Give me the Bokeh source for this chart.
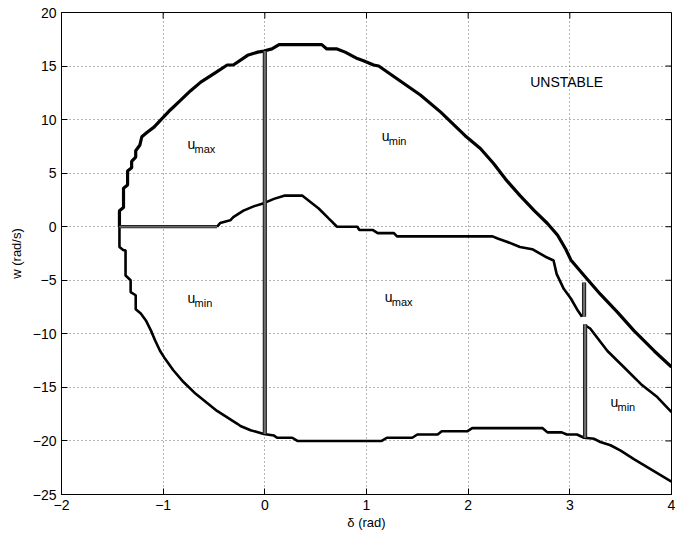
from bokeh.plotting import figure
from bokeh.models import FixedTicker, Range1d
from bokeh.core.properties import value
from bokeh.embed import file_html
from bokeh.resources import INLINE
import math

# ---- data ----
x_ticks = [-2, -1, 0, 1, 2, 3, 4]
y_ticks = [-25, -20, -15, -10, -5, 0, 5, 10, 15, 20]

# upper outer boundary (thick black)
a_x = [-1.43, -1.43, -1.39, -1.39, -1.35, -1.35, -1.31, -1.31, -1.27, -1.27, -1.23, -1.21,
       -1.16, -1.09, -1.03, -0.93, -0.83, -0.73, -0.63, -0.50, -0.37, -0.31, -0.17, -0.07,
       -0.01, 0.07, 0.14, 0.56, 0.61, 0.71, 0.79, 0.91, 0.97, 1.07, 1.12, 1.53, 1.73, 1.86,
       1.97, 2.12, 2.25, 2.38, 2.51, 2.65, 2.78, 2.88, 2.96, 3.01, 3.14, 3.30, 3.47, 3.63,
       3.83, 4.0]
a_y = [0.0, 1.5, 1.8, 3.6, 3.9, 5.2, 5.5, 6.1, 6.5, 7.1, 7.6, 8.4,
       8.8, 9.3, 9.9, 10.9, 11.8, 12.7, 13.5, 14.3, 15.1, 15.1, 16.0, 16.3,
       16.4, 16.6, 17.0, 17.0, 16.6, 16.6, 16.3, 15.7, 15.5, 15.1, 15.0, 12.3, 10.7, 9.5,
       8.5, 7.3, 5.9, 4.3, 2.9, 1.5, 0.3, -0.8, -2.1, -3.1, -4.55, -6.3, -8.0, -9.7,
       -11.6, -13.1]

# inner switching curve: grey flat part, then black part
b0_x = [-1.43, -0.47]
b0_y = [0.0, 0.0]
b_x = [-0.47, -0.44, -0.34, -0.31, -0.21, -0.11, -0.01, 0.09, 0.19, 0.37, 0.53, 0.63, 0.71,
       0.91, 0.93, 1.06, 1.11, 1.27, 1.30, 2.24, 2.29, 2.38, 2.51, 2.63, 2.76, 2.84, 2.87,
       2.94, 3.01, 3.07, 3.12]
b_y = [0.0, 0.34, 0.6, 0.9, 1.5, 1.9, 2.2, 2.6, 2.9, 2.9, 1.7, 0.75, 0.0,
       0.0, -0.3, -0.3, -0.6, -0.6, -0.9, -0.9, -1.1, -1.4, -1.9, -2.1, -2.8, -3.15, -4.4,
       -5.8, -6.7, -7.7, -8.4]

# lower right curve
c_x = [3.15, 3.20, 3.37, 3.53, 3.70, 3.86, 4.0]
c_y = [-9.2, -9.5, -11.6, -13.1, -14.7, -15.9, -17.3]

# lower outer boundary
d_x = [-1.43, -1.43, -1.39, -1.37, -1.37, -1.32, -1.32, -1.27, -1.27, -1.22, -1.17, -1.12,
       -1.08, -1.03, -0.99, -0.90, -0.80, -0.68, -0.47, -0.27, -0.24, -0.14, -0.01, 0.09,
       0.12, 0.27, 0.32, 1.15, 1.20, 1.45, 1.50, 1.70, 1.74, 1.99, 2.04, 2.73, 2.78, 2.92,
       2.97, 3.07, 3.14, 3.24, 3.30, 3.40, 3.50, 3.63, 3.79, 4.0]
d_y = [0.0, -1.9, -2.2, -2.2, -4.55, -5.0, -6.1, -6.4, -7.7, -8.1, -8.75, -9.7,
       -10.6, -11.6, -12.2, -13.4, -14.5, -15.6, -17.2, -18.4, -18.6, -19.0, -19.35, -19.5,
       -19.7, -19.7, -20.0, -20.0, -19.7, -19.7, -19.4, -19.4, -19.1, -19.1, -18.8, -18.8, -19.2, -19.2,
       -19.4, -19.4, -19.7, -19.8, -20.1, -20.4, -20.9, -21.7, -22.6, -23.8]

# grey vertical switching segments
v_x = [[0.0, 0.0], [3.14, 3.14], [3.15, 3.15]]
v_y = [[16.4, -19.35], [-8.4, -5.2], [-9.1, -19.7]]

# region labels: "u" + subscript
lab_x = [-0.76, 1.15, -0.76, 1.18, 3.40]
lab_y = [7.7, 8.5, -6.7, -6.55, -16.4]
lab_sub = ["max", "min", "min", "max", "min"]
unstable_x = [2.61]
unstable_y = [13.5]
unstable_text = ["UNSTABLE"]

FONT = "Liberation Sans"
X0, X1, Y0, Y1 = -2, 4, -25, 20

p = figure(width=697, height=534, output_backend="svg", toolbar_location=None,
           x_range=Range1d(X0, X1), y_range=Range1d(Y0, Y1),
           min_border_left=61, min_border_right=26, min_border_top=12, min_border_bottom=40)
p.background_fill_color = "white"
p.border_fill_color = "white"
p.outline_line_color = "black"
p.outline_line_width = 1

for ax, ticks in ((p.xaxis[0], x_ticks), (p.yaxis[0], y_ticks)):
    ax.ticker = FixedTicker(ticks=ticks)
    ax.major_label_overrides = {t: str(t).replace("-", "\u2212") for t in ticks}
    ax.major_tick_in = 6
    ax.major_tick_out = 0
    ax.minor_tick_line_color = None
    ax.axis_line_color = "black"
    ax.major_tick_line_color = "black"
    ax.major_label_text_font = FONT
    ax.major_label_text_font_size = "14px"
    ax.major_label_text_color = "black"
    ax.axis_label_text_font = FONT
    ax.axis_label_text_font_size = "13px"
    ax.axis_label_text_font_style = "normal"
    ax.axis_label_text_color = "black"
p.xaxis.axis_label = "\u03b4 (rad)"
p.yaxis.axis_label = "w (rad/s)"
p.xaxis.major_label_standoff = 5
p.yaxis.major_label_standoff = 5
p.xaxis.axis_label_standoff = 2
p.yaxis.axis_label_standoff = 6

for g, ticks in ((p.xgrid[0], x_ticks), (p.ygrid[0], y_ticks)):
    g.ticker = FixedTicker(ticks=ticks)
    g.grid_line_color = "#666666"
    g.grid_line_dash = "1 3"
    g.grid_line_width = 1

# mirrored inward tick marks on the right and top edges (half of each dash is clipped by the frame)
p.scatter([X1] * len(y_ticks), y_ticks, marker="dash", size=12, line_color="black",
          line_width=1, angle=0)
p.scatter(x_ticks, [Y1] * len(x_ticks), marker="dash", size=12, line_color="black",
          line_width=1, angle=math.pi / 2)

# curves
p.line(a_x, a_y, line_color="black", line_width=3.2)
p.line(d_x, d_y, line_color="black", line_width=2.6)
p.line(b_x, b_y, line_color="black", line_width=2.6)
p.line(c_x, c_y, line_color="black", line_width=2.6)
p.line(b0_x, b0_y, line_color="#222222", line_width=3.2)
p.line(b0_x, b0_y, line_color="#6a6a6a", line_width=1.4)
p.multi_line(v_x, v_y, line_color="#222222", line_width=4.2)
p.multi_line(v_x, v_y, line_color="#707070", line_width=2.0)

# labels
p.text(lab_x, lab_y, text=["u"] * len(lab_x), text_font=value(FONT), text_font_size="14px",
       text_baseline="middle", text_align="left", text_color="black")
p.text(lab_x, lab_y, text=lab_sub, text_font=value(FONT), text_font_size="11px",
       text_baseline="middle", text_align="left", text_color="black", x_offset=7, y_offset=5)
p.text(unstable_x, unstable_y, text=unstable_text, text_font=value(FONT), text_font_size="14px",
       text_baseline="middle", text_align="left", text_color="black")

open("out.html", "w").write(file_html(p, INLINE))
